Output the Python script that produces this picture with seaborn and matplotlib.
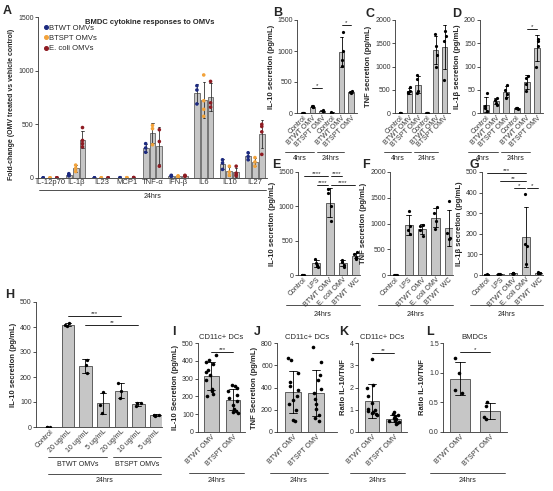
import numpy as np
import pandas as pd
import matplotlib
matplotlib.use("Agg")
import matplotlib.pyplot as plt
import matplotlib.transforms as mtransforms
from matplotlib.lines import Line2D
import seaborn as sns

sns.set_style("white")
plt.rcParams['font.family'] = ['Liberation Sans', 'DejaVu Sans']

np.random.seed(3)

# ---------------- DATA ----------------
# Panel A
cytokines = ['IL-12p70', 'IL-1β', 'IL23', 'MCP1', 'TNF-α', 'IFN-β', 'IL6', 'IL10', 'IL27']
seriesA = ['BTWT OMVs', 'BTSPT OMVs', 'E. coli OMVs']
A_btwt = [[1, 1, 1], [20, 30, 40], [1, 1, 1], [2, 3, 2], [240, 280, 320],
          [20, 25, 15], [690, 820, 860], [80, 140, 170], [170, 200, 235]]
A_btspt = [[1, 1, 1], [60, 90, 120], [1, 1, 1], [2, 2, 3], [310, 460, 490],
           [10, 15, 20], [575, 640, 720, 960], [25, 55, 110], [110, 150, 190]]
A_ecoli = [[2, 2, 2], [290, 320, 350, 470], [2, 2, 2], [3, 3, 4], [110, 340, 450],
           [15, 20, 25], [660, 700, 900], [20, 30, 45, 110], [220, 430, 480, 500]]

# Panels B-D
labels_BCD = ['Control', 'BTWT OMV', 'BTSPT OMV', 'Control', 'BTWT OMV', 'BTSPT OMV']
B_vals = [[2, 3, 5, 4], [90, 100, 110, 105], [30, 40, 50, 35],
          [5, 8, 10, 6], [760, 850, 1000, 1310], [320, 335, 345, 360]]
C_vals = [[5, 5, 5, 5], [420, 450, 480, 560], [420, 480, 740, 810],
          [5, 10, 8, 6], [1000, 1250, 1450, 1700], [720, 1550, 1650, 1760]]
D_vals = [[5, 10, 15, 42], [18, 22, 28, 32], [32, 40, 50, 60],
          [8, 10, 11, 11], [47, 62, 75, 80], [100, 145, 155, 160]]

# Panels E-G
labels_EFG = ['Control', 'LPS', 'BTWT OMV', 'E. coli OMV', 'BTWT  WC']
E_vals = [[2, 3, 4, 5], [120, 150, 170, 240], [780, 1000, 1190, 1250],
          [120, 150, 190, 220], [240, 260, 300, 330]]
F_vals = [[5, 5, 6, 4], [800, 870, 950, 1240], [760, 880, 960, 980],
          [890, 1050, 1200, 1320], [700, 720, 820, 1430]]
G_vals = [[1, 2, 3, 2], [2, 3, 4, 5], [5, 8, 10, 12],
          [55, 140, 150, 395], [8, 10, 12, 13]]

# Panel H
labels_H = ['Control', '20 ug/mL', '10 ug/mL', '5 ug/mL', '20 ug/mL', '10 ug/mL', '5 ug/mL']
H_vals = [[1, 1, 2], [405, 410, 415], [215, 248, 268], [55, 88, 140],
          [115, 145, 178], [85, 95, 97], [45, 48, 50]]

# Panels I-L
labels_IL = ['BTWT OMV', 'BTSPT OMV']
I_vals = [[200, 215, 230, 240, 290, 320, 335, 350, 380, 395, 405, 430],
          [105, 110, 120, 130, 150, 175, 190, 210, 230, 245, 260, 265]]
J_vals = [[100, 110, 200, 250, 290, 320, 380, 410, 450, 530, 650, 665],
          [100, 130, 150, 210, 250, 300, 350, 390, 470, 510, 630, 760]]
K_vals = [[0.75, 0.8, 0.85, 0.9, 0.95, 1.0, 1.05, 1.3, 1.6, 2.0, 2.1, 3.3],
          [0.35, 0.4, 0.45, 0.5, 0.5, 0.55, 0.6, 0.65, 0.7, 0.75, 0.8, 0.9]]
L_vals = [[0.65, 0.7, 1.0, 1.25], [0.22, 0.25, 0.43, 0.5]]

# ---------------- FIGURE ----------------
W, H = 553, 491
fig = plt.figure(figsize=(W / 100, H / 100), dpi=100)
fig.patch.set_facecolor('white')

BAR = '#c6c6c6'
EDGE = '#4a4a4a'
FS_T = 5.0
FS_L = 5.5


def add_ax(l, t, r, b):
    return fig.add_axes([l / W, 1 - b / H, (r - l) / W, (b - t) / H])


def style(ax, ylim, yticks, ylabel, yfmt=None, lfs=FS_L):
    ax.set_ylim(*ylim)
    ax.set_yticks(yticks)
    if yfmt:
        ax.set_yticklabels([yfmt.format(v) for v in yticks])
    for s in ['top', 'right']:
        ax.spines[s].set_visible(False)
    for s in ['left', 'bottom']:
        ax.spines[s].set_linewidth(0.6)
        ax.spines[s].set_color('#333333')
    ax.tick_params(axis='y', length=2, width=0.6, labelsize=FS_T, pad=1, left=True, colors='#333333')
    ax.tick_params(axis='x', length=0, labelsize=FS_T, pad=1, colors='#333333')
    ax.set_ylabel(ylabel, fontsize=lfs, fontweight='bold', labelpad=2)
    ax.set_xlabel('')
    ax.set_facecolor('none')


def bar_panel(ax, vals, labels, width, xlim, rot=45, psize=2.3, jit=0.15):
    keys = [str(i) for i in range(len(vals))]
    rows = [(keys[i], v) for i, g in enumerate(vals) for v in g]
    df = pd.DataFrame(rows, columns=['k', 'v'])
    sns.barplot(data=df, x='k', y='v', order=keys, color=BAR, edgecolor=EDGE,
                linewidth=0.6, errorbar='sd', capsize=0.35, width=width,
                err_kws=dict(color='k', linewidth=0.6), ax=ax)
    sns.stripplot(data=df, x='k', y='v', order=keys, color='k', size=psize,
                  jitter=jit, ax=ax, zorder=5)
    ax.set_xlim(*xlim)
    ax.set_xticks(range(len(labels)))
    if rot:
        ax.set_xticklabels(labels, rotation=rot, ha='right', rotation_mode='anchor')
    else:
        ax.set_xticklabels(labels)


def group_line(ax, x0, x1, py, text, pty):
    tr = mtransforms.blended_transform_factory(ax.transData, fig.transFigure)
    ax.add_line(Line2D([x0, x1], [1 - py / H, 1 - py / H], transform=tr,
                       color='#333333', lw=0.6, clip_on=False))
    ax.text((x0 + x1) / 2, 1 - pty / H, text, transform=tr, ha='center',
            va='center', fontsize=FS_T, clip_on=False, color='#222222')


def sig(ax, x0, x1, y, stars, shrink=0.08):
    ax.plot([x0 + shrink, x1 - shrink], [y, y], color='k', lw=0.6, clip_on=False)
    ax.text((x0 + x1) / 2, y, stars, ha='center', va='bottom', fontsize=4.5,
            clip_on=False)


def letter(px, py, s):
    fig.text(px / W, 1 - py / H, s, fontsize=9, fontweight='bold', ha='left', va='center')


# ---------- Panel A ----------
axA = add_ax(38, 17, 267, 178)
rows = []
for sname, arr in zip(seriesA, [A_btwt, A_btspt, A_ecoli]):
    for c, g in zip(cytokines, arr):
        for v in g:
            rows.append((c, sname, v))
dfA = pd.DataFrame(rows, columns=['cyt', 'series', 'v'])
ptcol = ['#1c2a80', '#f2a23a', '#8e1b22']
sns.barplot(data=dfA, x='cyt', y='v', hue='series', order=cytokines, hue_order=seriesA,
            palette=[BAR] * 3, edgecolor=EDGE, linewidth=0.5, errorbar='sd',
            capsize=0.25, gap=0.15, err_kws=dict(color='#333333', linewidth=0.6),
            legend=False, ax=axA)
sns.stripplot(data=dfA, x='cyt', y='v', hue='series', order=cytokines, hue_order=seriesA,
              palette=ptcol, dodge=True, jitter=0, size=2.6, legend=False, ax=axA, zorder=5)
axA.set_xlim(-0.47, 8.47)
style(axA, (0, 1500), [0, 500, 1000, 1500], 'Fold-change (OMV treated vs vehicle control)', lfs=5.0)
axA.yaxis.set_label_coords(-0.1, 0.46)
axA.tick_params(axis='x', labelsize=5.5)
handles = [Line2D([], [], marker='o', ls='', color=c, markersize=2.6) for c in ptcol]
leg = axA.legend(handles, seriesA, loc='upper left', bbox_to_anchor=(0.0, 0.98),
                 fontsize=5.5, frameon=False, handletextpad=0.1, handlelength=0.8,
                 labelspacing=0.35, borderaxespad=0.2)
fig.text(150 / W, 1 - 23 / H, 'BMDC cytokine responses to OMVs', fontsize=5.5,
         fontweight='bold', ha='center', va='center')
group_line(axA, -0.45, 8.45, 190, '24hrs', 197)
letter(3, 11, 'A')

# ---------- Panels B-D ----------
axB = add_ax(297, 20, 357, 113)
bar_panel(axB, B_vals, labels_BCD, 0.6, (-0.6, 5.6))
style(axB, (0, 1500), [0, 500, 1000, 1500], 'IL-10 secretion (pg/mL)')
sig(axB, 1, 2, 400, '*', 0)
sig(axB, 4, 5, 1420, '*', 0)

axC = add_ax(395, 20, 450, 113)
bar_panel(axC, C_vals, labels_BCD, 0.6, (-0.6, 5.6))
style(axC, (0, 2000), [0, 500, 1000, 1500, 2000], 'TNF secretion (pg/mL)')

axD = add_ax(480, 20, 543, 113)
bar_panel(axD, D_vals, labels_BCD, 0.6, (-0.6, 5.6))
style(axD, (0, 200), [0, 50, 100, 150, 200], 'IL-1β secretion (pg/mL)')
sig(axD, 4, 5, 181, '*', 0)

for ax in (axB, axC, axD):
    group_line(ax, -1.8, 1.2, 152, '4hrs', 158)
    group_line(ax, 1.5, 4.3, 152, '24hrs', 158)

letter(273, 13, 'B')
letter(366, 14, 'C')
letter(452, 14, 'D')

# ---------- Panels E-G ----------
axE = add_ax(298, 172, 360, 275)
bar_panel(axE, E_vals, labels_EFG, 0.6, (-0.38, 4.3))
style(axE, (0, 1500), [0, 500, 1000, 1500], 'IL-10 secretion (pg/mL)')
sig(axE, 0, 2, 1442, '****')
sig(axE, 2, 3, 1442, '****')
sig(axE, 1, 2, 1307, '****')
sig(axE, 2, 4, 1307, '****')

axF = add_ax(390, 172, 453, 275)
bar_panel(axF, F_vals, labels_EFG, 0.6, (-0.38, 4.3))
style(axF, (0, 2000), [0, 500, 1000, 1500, 2000], 'TNF secretion (pg/mL)')

axG = add_ax(482, 172, 543, 275)
bar_panel(axG, G_vals, labels_EFG, 0.6, (-0.38, 4.3))
style(axG, (0, 500), [0, 100, 200, 300, 400, 500], 'IL-1β secretion (pg/mL)')
sig(axG, 0, 3, 495, '***', 0)
sig(axG, 1, 3, 457, '**', 0)
sig(axG, 2, 3, 421, '*')
sig(axG, 3, 4, 421, '*')

for ax in (axE, axF, axG):
    group_line(ax, -1.3, 4.3, 305, '24hrs', 314)

letter(272, 165, 'E')
letter(362, 165, 'F')
letter(469, 165, 'G')

# ---------- Panel H ----------
axH = add_ax(36, 302, 162, 427)
bar_panel(axH, H_vals, labels_H, 0.7, (-0.8, 6.34), psize=2.4, jit=0.2)
style(axH, (0, 500), [0, 100, 200, 300, 400, 500], 'IL-10 secretion (pg/mL)')
sig(axH, 1, 4, 444, '***', 0)
sig(axH, 2, 5, 408, '**', 0)
group_line(axH, -0.1, 3.2, 457, 'BTWT OMVs', 464)
group_line(axH, 3.55, 6.3, 457, 'BTSPT OMVs', 464)
group_line(axH, -0.1, 6.3, 474, '24hrs', 481)
letter(5, 295, 'H')

# ---------- Panels I-L ----------
axI = add_ax(198, 343, 245, 432)
bar_panel(axI, I_vals, labels_IL, 0.68, (-0.6, 1.55), psize=2.6, jit=0.25)
style(axI, (0, 500), [0, 100, 200, 300, 400, 500], 'IL-10 Secretion (pg/mL)')
sig(axI, 0, 1, 449, '***', 0)

axJ = add_ax(277, 343, 337, 432)
bar_panel(axJ, J_vals, labels_IL, 0.68, (-0.7, 1.9), psize=2.6, jit=0.25)
style(axJ, (0, 800), [0, 200, 400, 600, 800], 'TNF Secretion (pg/mL)')

axK = add_ax(358, 343, 407, 432)
bar_panel(axK, K_vals, labels_IL, 0.68, (-0.64, 1.6), psize=2.6, jit=0.25)
style(axK, (0, 4), [0, 1, 2, 3, 4], 'Ratio IL-10/TNF')
sig(axK, 0, 1, 3.55, '**', 0)

axL = add_ax(443, 343, 507, 432)
bar_panel(axL, L_vals, labels_IL, 0.67, (-0.57, 1.57), psize=2.6, jit=0.2)
style(axL, (0, 1.5), [0.0, 0.5, 1.0, 1.5], 'Ratio IL-10/TNF', yfmt='{:.1f}')
sig(axL, 0, 1, 1.34, '*', 0)

titles = ['CD11c+ DCs', 'CD11c+ DCs', 'CD11c+ DCs', 'BMDCs']
for ax, t in zip((axI, axJ, axK, axL), titles):
    ax.set_title(t, fontsize=FS_L, pad=3)
    group_line(ax, -1.0, 1.5, 473, '24hrs', 480)

letter(172, 332, 'I')
letter(254, 332, 'J')
letter(339, 332, 'K')
letter(426, 332, 'L')

fig.savefig('out.png', dpi=100, facecolor='white')
